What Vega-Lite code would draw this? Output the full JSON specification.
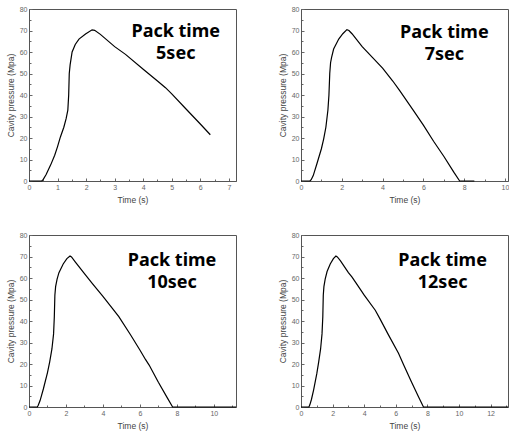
{
  "$schema": "https://vega.github.io/schema/vega-lite/v6.json",
  "padding": {"left": 5, "top": 4, "right": 2, "bottom": 2},
  "background": "white",
  "config": {
    "font": "Liberation Sans",
    "view": {"stroke": "#555", "strokeWidth": 1},
    "axis": {
      "labelFontSize": 7, "labelColor": "#666", "titleFontSize": 8.5, "titleColor": "#444",
      "titleFontWeight": "normal", "domainColor": "#555", "tickColor": "#666", "tickSize": -3,
      "labelPadding": 5, "grid": false, "labelOverlap": false, "labelFlush": false
    },
    "axisX": {"titlePadding": 5},
    "axisY": {"titlePadding": 4},
    "text": {"font": "Noto Sans", "fontSize": 18, "fontWeight": "bold", "lineBreak": "\n", "lineHeight": 22, "color": "black"}
  },
  "datasets": {
    "p5": [
      {"t":0,"p":0},{"t":0.45,"p":0},{"t":0.5,"p":0.8},{"t":0.6,"p":3},{"t":0.76,"p":7.5},{"t":0.9,"p":12},{"t":1.0,"p":16},{"t":1.1,"p":20.5},{"t":1.22,"p":25},{"t":1.3,"p":29},{"t":1.36,"p":33},{"t":1.39,"p":40},{"t":1.41,"p":50},{"t":1.44,"p":54},{"t":1.51,"p":60},{"t":1.62,"p":63.5},{"t":1.75,"p":66},{"t":1.98,"p":68.4},{"t":2.21,"p":70.3},{"t":2.3,"p":70.1},{"t":2.5,"p":68.2},{"t":3.0,"p":62.5},{"t":3.38,"p":58.9},{"t":4.0,"p":52},{"t":4.5,"p":46.5},{"t":4.78,"p":43.4},{"t":5.0,"p":40.5},{"t":5.5,"p":33.5},{"t":6.0,"p":26.5},{"t":6.35,"p":21.5}
    ],
    "p7": [
      {"t":0,"p":0},{"t":0.44,"p":0},{"t":0.5,"p":0.6},{"t":0.6,"p":2.5},{"t":0.78,"p":8},{"t":1.0,"p":15},{"t":1.11,"p":19.5},{"t":1.22,"p":25},{"t":1.32,"p":33},{"t":1.37,"p":40},{"t":1.41,"p":50},{"t":1.45,"p":55},{"t":1.5,"p":57.5},{"t":1.6,"p":61.4},{"t":1.85,"p":66},{"t":2.05,"p":68.5},{"t":2.25,"p":70.4},{"t":2.35,"p":70},{"t":2.5,"p":68.5},{"t":3.0,"p":62.5},{"t":3.5,"p":57.5},{"t":4.0,"p":52.5},{"t":4.5,"p":46.5},{"t":4.84,"p":42},{"t":5.5,"p":33},{"t":6.0,"p":26},{"t":6.5,"p":18.5},{"t":7.0,"p":11.5},{"t":7.5,"p":4},{"t":7.78,"p":0},{"t":8.5,"p":0}
    ],
    "p10": [
      {"t":0,"p":0},{"t":0.45,"p":0},{"t":0.5,"p":0.8},{"t":0.6,"p":3},{"t":0.78,"p":8.5},{"t":1.0,"p":16},{"t":1.12,"p":21},{"t":1.24,"p":27},{"t":1.33,"p":34},{"t":1.37,"p":42},{"t":1.4,"p":52},{"t":1.44,"p":56},{"t":1.52,"p":59.5},{"t":1.62,"p":62.5},{"t":1.85,"p":66.5},{"t":2.05,"p":69},{"t":2.22,"p":70.2},{"t":2.3,"p":69.8},{"t":2.5,"p":67.5},{"t":3.0,"p":62},{"t":3.42,"p":57.5},{"t":4.0,"p":51.5},{"t":4.5,"p":46},{"t":4.86,"p":42},{"t":5.5,"p":33.5},{"t":6.0,"p":26.5},{"t":6.31,"p":22},{"t":6.5,"p":19.5},{"t":7.0,"p":11.5},{"t":7.5,"p":4},{"t":7.77,"p":0},{"t":11.2,"p":0}
    ],
    "p12": [
      {"t":0,"p":0},{"t":0.5,"p":0},{"t":0.56,"p":1},{"t":0.66,"p":3.5},{"t":0.8,"p":8},{"t":1.0,"p":15.5},{"t":1.12,"p":21},{"t":1.24,"p":27},{"t":1.33,"p":34},{"t":1.38,"p":42},{"t":1.41,"p":52},{"t":1.45,"p":56},{"t":1.53,"p":59.5},{"t":1.65,"p":63},{"t":1.85,"p":66.5},{"t":2.05,"p":69},{"t":2.21,"p":70.2},{"t":2.3,"p":69.8},{"t":2.5,"p":68},{"t":3.0,"p":62.5},{"t":3.22,"p":60.5},{"t":3.5,"p":57.5},{"t":4.0,"p":52},{"t":4.7,"p":45},{"t":5.0,"p":41},{"t":5.5,"p":34},{"t":6.17,"p":25},{"t":6.5,"p":19.5},{"t":7.0,"p":11.5},{"t":7.45,"p":4.5},{"t":7.75,"p":0},{"t":13.1,"p":0}
    ],
    "labels": [
      {"panel":"5","t":5.14,"p":69.3,"label":"Pack time\n5sec"},
      {"panel":"7","t":7.03,"p":68.7,"label":"Pack time\n7sec"},
      {"panel":"10","t":7.74,"p":67.9,"label":"Pack time\n10sec"},
      {"panel":"12","t":8.96,"p":68.1,"label":"Pack time\n12sec"}
    ]
  },
  "columns": 2,
  "spacing": {"row": 26, "column": 38},
  "concat": [
    {
      "width": 207, "height": 172,
      "resolve": {"axis": {"x": "independent", "y": "independent"}},
      "layer": [
        {"data": {"name": "labels"}, "transform": [{"filter": "datum.panel == '5'"}], "mark": {"type": "text"},
         "encoding": {
           "x": {"field": "t", "type": "quantitative", "title": null, "axis": {"orient": "bottom", "values": [0.5,1.5,2.5,3.5,4.5,5.5,6.5], "labels": false, "domain": false, "tickSize": -2}},
           "y": {"field": "p", "type": "quantitative", "title": null, "axis": {"orient": "left", "values": [5,15,25,35,45,55,65,75], "labels": false, "domain": false, "tickSize": -2}},
           "text": {"field": "label"}}},
        {"data": {"name": "p5"}, "mark": {"type": "line", "color": "black", "strokeWidth": 1.2},
         "encoding": {
           "x": {"field": "t", "type": "quantitative", "title": "Time (s)", "scale": {"domain": [0, 7.25], "nice": false},
                 "axis": {"orient": "bottom", "values": [0,1,2,3,4,5,6,7]}},
           "y": {"field": "p", "type": "quantitative", "title": "Cavity pressure (Mpa)", "scale": {"domain": [0, 80], "nice": false},
                 "axis": {"orient": "left", "values": [0,10,20,30,40,50,60,70,80]}}
         }}
      ]
    },
    {
      "width": 207, "height": 172,
      "resolve": {"axis": {"x": "independent", "y": "independent"}},
      "layer": [
        {"data": {"name": "labels"}, "transform": [{"filter": "datum.panel == '7'"}], "mark": {"type": "text"},
         "encoding": {
           "x": {"field": "t", "type": "quantitative", "title": null, "axis": {"orient": "bottom", "values": [1,3,5,7,9], "labels": false, "domain": false, "tickSize": -2}},
           "y": {"field": "p", "type": "quantitative", "title": null, "axis": {"orient": "left", "values": [5,15,25,35,45,55,65,75], "labels": false, "domain": false, "tickSize": -2}},
           "text": {"field": "label"}}},
        {"data": {"name": "p7"}, "mark": {"type": "line", "color": "black", "strokeWidth": 1.2},
         "encoding": {
           "x": {"field": "t", "type": "quantitative", "title": "Time (s)", "scale": {"domain": [0, 10.15], "nice": false},
                 "axis": {"orient": "bottom", "values": [0,2,4,6,8,10]}},
           "y": {"field": "p", "type": "quantitative", "title": "Cavity pressure (Mpa)", "scale": {"domain": [0, 80], "nice": false},
                 "axis": {"orient": "left", "values": [0,10,20,30,40,50,60,70,80]}}
         }}
      ]
    },
    {
      "width": 207, "height": 172,
      "resolve": {"axis": {"x": "independent", "y": "independent"}},
      "layer": [
        {"data": {"name": "labels"}, "transform": [{"filter": "datum.panel == '10'"}], "mark": {"type": "text"},
         "encoding": {
           "x": {"field": "t", "type": "quantitative", "title": null, "axis": {"orient": "bottom", "values": [1,3,5,7,9,11], "labels": false, "domain": false, "tickSize": -2}},
           "y": {"field": "p", "type": "quantitative", "title": null, "axis": {"orient": "left", "values": [5,15,25,35,45,55,65,75], "labels": false, "domain": false, "tickSize": -2}},
           "text": {"field": "label"}}},
        {"data": {"name": "p10"}, "mark": {"type": "line", "color": "black", "strokeWidth": 1.2},
         "encoding": {
           "x": {"field": "t", "type": "quantitative", "title": "Time (s)", "scale": {"domain": [0, 11.2], "nice": false},
                 "axis": {"orient": "bottom", "values": [0,2,4,6,8,10]}},
           "y": {"field": "p", "type": "quantitative", "title": "Cavity pressure (Mpa)", "scale": {"domain": [0, 80], "nice": false},
                 "axis": {"orient": "left", "values": [0,10,20,30,40,50,60,70,80]}}
         }}
      ]
    },
    {
      "width": 207, "height": 172,
      "resolve": {"axis": {"x": "independent", "y": "independent"}},
      "layer": [
        {"data": {"name": "labels"}, "transform": [{"filter": "datum.panel == '12'"}], "mark": {"type": "text"},
         "encoding": {
           "x": {"field": "t", "type": "quantitative", "title": null, "axis": {"orient": "bottom", "values": [1,3,5,7,9,11,13], "labels": false, "domain": false, "tickSize": -2}},
           "y": {"field": "p", "type": "quantitative", "title": null, "axis": {"orient": "left", "values": [5,15,25,35,45,55,65,75], "labels": false, "domain": false, "tickSize": -2}},
           "text": {"field": "label"}}},
        {"data": {"name": "p12"}, "mark": {"type": "line", "color": "black", "strokeWidth": 1.2},
         "encoding": {
           "x": {"field": "t", "type": "quantitative", "title": "Time (s)", "scale": {"domain": [0, 13.1], "nice": false},
                 "axis": {"orient": "bottom", "values": [0,2,4,6,8,10,12]}},
           "y": {"field": "p", "type": "quantitative", "title": "Cavity pressure (Mpa)", "scale": {"domain": [0, 80], "nice": false},
                 "axis": {"orient": "left", "values": [0,10,20,30,40,50,60,70,80]}}
         }}
      ]
    }
  ]
}
